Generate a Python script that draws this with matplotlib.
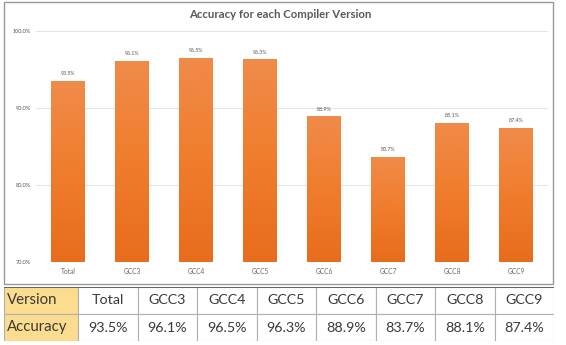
import matplotlib.pyplot as plt
import numpy as np
from matplotlib.colors import LinearSegmentedColormap
from matplotlib.patches import Rectangle

versions = ["Total", "GCC3", "GCC4", "GCC5", "GCC6", "GCC7", "GCC8", "GCC9"]
accuracy = [93.5, 96.1, 96.5, 96.3, 88.9, 83.7, 88.1, 87.4]
yticks = [70, 80, 90, 100]
row_labels = ["Version", "Accuracy"]

plt.rcParams['font.family'] = ['Lato', 'DejaVu Sans']

W, H = 566, 345
fig = plt.figure(figsize=(W / 100, H / 100), dpi=100)

# chart frame
fig.patches.append(Rectangle((4 / W, 1 - 284 / H), 549 / W, 282 / H,
                             transform=fig.transFigure, fill=False,
                             edgecolor='#9a9a9a', linewidth=1.0))

ax = fig.add_axes([36 / W, 1 - 262 / H, 512 / W, 231 / H])
x = np.arange(len(versions))
bars = ax.bar(x, accuracy, width=0.52, color='none', edgecolor='none', zorder=2)

# vertical orange gradient inside each bar
cmap = LinearSegmentedColormap.from_list('og', ['#e76d1c', '#f07d2c', '#f08b4a'])
grad = np.linspace(0, 1, 256).reshape(-1, 1)
for b in bars:
    bx, by = b.get_x(), b.get_y()
    bw, bh = b.get_width(), b.get_height()
    im = ax.imshow(grad, cmap=cmap, origin='lower', aspect='auto',
                   extent=[bx, bx + bw, 70, by + bh], zorder=2)
    im.set_clip_path(b)

for xi, v in zip(x, accuracy):
    ax.text(xi, v + 0.6, f"{v:.1f}%", ha='center', va='bottom',
            fontsize=3.8, color='#555555')

ax.set_xlim(-0.5, len(versions) - 0.5)
ax.set_ylim(70, 100)
ax.set_yticks(yticks)
ax.set_yticklabels([f"{t:.1f}%" for t in yticks], fontsize=4, color='#555555')
ax.set_xticks(x)
ax.set_xticklabels(versions, fontsize=4.8, color='#666666')
ax.tick_params(length=0, pad=4)
ax.grid(axis='y', color='#e3e3e3', linewidth=0.7, zorder=0)
ax.set_axisbelow(True)
for s in ax.spines.values():
    s.set_visible(False)

fig.text(280 / W, 1 - 15 / H, "Accuracy for each Compiler Version",
         ha='center', va='center', fontsize=8.2, fontweight='bold', color='#595959')

# data table below the chart
tab = fig.add_axes([4 / W, 1 - 341 / H, 550 / W, 54 / H])
tab.set_xlim(0, 550)
tab.set_ylim(0, 54)
tab.axis('off')
first_w = 74
col_w = (550 - first_w) / len(versions)
row_h = 27
cells = [versions, [f"{v:.1f}%" for v in accuracy]]
for r, (label, values) in enumerate(zip(row_labels, cells)):
    y0 = 54 - (r + 1) * row_h
    tab.add_patch(Rectangle((0, y0), first_w, row_h, facecolor='#fcdc8f',
                            edgecolor='#b0b0b0', linewidth=0.8))
    tab.text(3, y0 + row_h / 2, label, ha='left', va='center',
             fontsize=10.8, color='#3a3a3a')
    for c, val in enumerate(values):
        cx = first_w + c * col_w
        tab.add_patch(Rectangle((cx, y0), col_w, row_h, facecolor='white',
                                edgecolor='#b0b0b0', linewidth=0.8))
        tab.text(cx + col_w / 2, y0 + row_h / 2, val, ha='center', va='center',
                 fontsize=10.3, color='#3a3a3a')
tab.plot([0, 550], [54, 54], color='#555555', linewidth=1.2)

fig.savefig('out.png', dpi=100)
